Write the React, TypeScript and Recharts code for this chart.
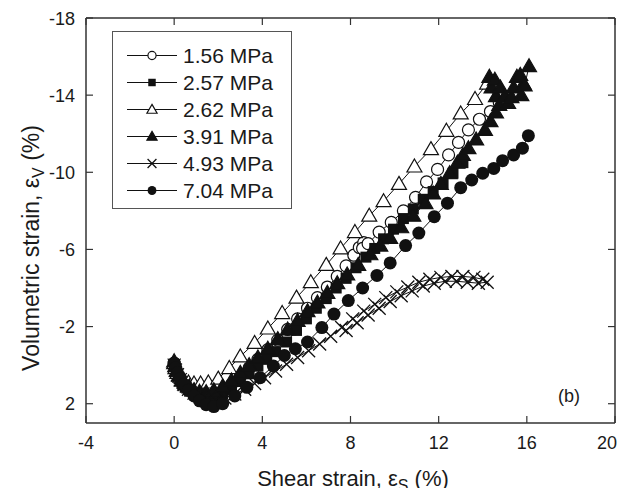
import { Legend, Line, LineChart, XAxis, YAxis } from "recharts";

const FONT = "'Liberation Sans', Arial, Helvetica, sans-serif";
const INK = "#111";
const TXT = "#1a1a1a";
const CHART_W = 609;
const CHART_H = 480;

const seriesNames = ["1.56 MPa", "2.57 MPa", "2.62 MPa", "3.91 MPa", "4.93 MPa", "7.04 MPa"];
const markerKinds = ["circle", "square", "triangle", "triangleFill", "cross", "dot"];

const xTicks = [-4, 0, 4, 8, 12, 16, 20];
const yTicks = [-18, -14, -10, -6, -2, 2];

// shear strain (%), volumetric strain (%)
const p156 = [
  [0, -0.1], [0.05, 0.15], [0.12, 0.35], [0.22, 0.6], [0.35, 0.85], [0.5, 1.05], [0.7, 1.25],
  [0.9, 1.4], [1.15, 1.5], [1.45, 1.6], [1.8, 1.55], [2.2, 1.35], [2.6, 1.0], [3.0, 0.6],
  [3.4, 0.15], [3.8, -0.3], [4.25, -0.8], [4.7, -1.3], [5.15, -1.85], [5.6, -2.4], [6.05, -2.95],
  [6.5, -3.5], [6.95, -4.05], [7.4, -4.6], [7.8, -5.15], [8.15, -5.7], [8.4, -6.1], [8.6, -6.35],
  [8.75, -6.2], [8.55, -6.05], [8.8, -6.3], [9.3, -6.9], [9.85, -7.4], [10.4, -8.0], [10.95, -8.7],
  [11.45, -9.5], [11.95, -10.15], [12.45, -10.9], [12.9, -11.55], [13.35, -12.2], [13.85, -12.75],
  [14.35, -13.15], [14.75, -13.6],
];

const p257 = [
  [0, 0], [0.05, 0.2], [0.12, 0.45], [0.22, 0.7], [0.35, 0.95], [0.5, 1.15], [0.7, 1.35],
  [0.9, 1.5], [1.15, 1.62], [1.45, 1.7], [1.8, 1.68], [2.2, 1.5], [2.6, 1.2], [3.0, 0.85],
  [3.4, 0.45], [3.8, 0.05], [4.2, -0.3], [4.6, -0.7], [5.1, -1.2], [5.55, -1.8], [6.0, -2.4],
  [6.45, -2.95], [6.9, -3.45], [7.35, -4.0], [7.8, -4.5], [8.25, -5.05], [8.7, -5.6], [9.1, -6.05],
  [9.5, -6.55], [9.95, -7.05], [10.4, -7.6], [10.85, -8.1], [11.3, -8.6], [11.75, -9.0],
  [12.2, -9.45], [12.65, -9.95], [13.1, -10.5],
];

const p262 = [
  [0, -0.1], [0.06, 0.15], [0.15, 0.4], [0.28, 0.6], [0.45, 0.78], [0.65, 0.9], [0.9, 0.95],
  [1.2, 0.95], [1.55, 0.9], [2.0, 0.7], [2.5, 0.15], [3.0, -0.45], [3.65, -1.15], [4.25, -1.9],
  [4.9, -2.7], [5.55, -3.5], [6.2, -4.3], [6.9, -5.2], [7.55, -6.05], [8.2, -6.9], [8.85, -7.75],
  [9.5, -8.5], [10.2, -9.4], [10.9, -10.3], [11.65, -11.2], [12.35, -12.15], [13.0, -13.05],
  [13.65, -13.8], [14.2, -14.6],
];

const p391 = [
  [0, -0.2], [0.05, 0.05], [0.12, 0.3], [0.22, 0.55], [0.35, 0.8], [0.5, 1.0], [0.7, 1.15],
  [0.9, 1.3], [1.15, 1.38], [1.45, 1.4], [1.8, 1.3], [2.2, 1.1], [2.6, 0.8], [3.0, 0.4],
  [3.4, 0.0], [3.8, -0.4], [4.25, -0.85], [4.7, -1.35], [5.15, -1.85], [5.6, -2.3], [6.05, -2.8],
  [6.5, -3.25], [6.95, -3.75], [7.4, -4.25], [7.85, -4.7], [8.35, -5.2], [8.9, -5.75],
  [9.35, -6.2], [9.8, -6.6], [10.3, -7.15], [10.85, -7.75], [11.4, -8.4], [11.75, -8.9],
  [12.1, -9.4], [12.5, -9.95], [12.85, -10.5], [13.1, -10.9], [13.35, -11.25], [13.7, -11.7],
  [14.1, -12.2], [14.35, -12.65], [14.6, -13.1], [14.75, -13.5], [14.6, -13.95], [14.4, -14.4],
  [14.3, -14.95], [14.55, -14.8], [14.8, -14.4], [15.0, -13.95], [15.15, -13.6], [15.3, -13.9],
  [15.4, -14.4], [15.55, -14.95], [15.7, -15.05], [15.85, -14.6], [15.75, -14.0], [15.9, -14.5],
  [16.1, -15.5],
];

const p493 = [
  [0, 0], [0.06, 0.25], [0.15, 0.5], [0.28, 0.75], [0.45, 1.0], [0.65, 1.25], [0.9, 1.45],
  [1.2, 1.65], [1.55, 1.78], [1.9, 1.8], [2.3, 1.7], [2.75, 1.5], [3.2, 1.25], [3.65, 0.95],
  [4.1, 0.65], [4.6, 0.3], [5.1, -0.05], [5.6, -0.4], [6.1, -0.75], [6.6, -1.1], [7.1, -1.5],
  [7.6, -1.95], [8.1, -2.4], [8.6, -2.8], [9.1, -3.15], [9.6, -3.5], [10.1, -3.8], [10.6, -4.05],
  [11.1, -4.3], [11.6, -4.45], [12.1, -4.55], [12.6, -4.6], [13.1, -4.6], [13.6, -4.55],
  [14.0, -4.45], [14.2, -4.3], [13.8, -4.25], [13.3, -4.3], [12.8, -4.35], [12.3, -4.35],
  [11.8, -4.25], [11.3, -4.1], [10.8, -3.85], [10.3, -3.6], [9.8, -3.3], [9.3, -2.95],
  [8.8, -2.6], [8.3, -2.2], [7.8, -1.8],
];

const p704 = [
  [0, -0.1], [0.06, 0.15], [0.15, 0.4], [0.28, 0.7], [0.45, 1.0], [0.65, 1.3], [0.9, 1.6],
  [1.15, 1.85], [1.45, 2.05], [1.8, 2.15], [2.2, 2.0], [2.75, 1.6], [3.3, 1.15], [3.9, 0.65],
  [4.5, 0.05], [5.0, -0.5], [5.5, -0.85], [6.05, -1.2], [6.7, -1.95], [7.25, -2.65], [7.9, -3.35],
  [8.55, -4.0], [9.2, -4.65], [9.8, -5.3], [10.5, -6.2], [11.1, -6.85], [11.8, -7.7], [12.4, -8.4],
  [13.0, -9.2], [13.5, -9.6], [14.0, -9.95], [14.5, -10.2], [14.9, -10.6], [15.4, -10.9],
  [15.8, -11.25], [16.07, -11.9],
];

const seriesPoints = [p156, p257, p262, p391, p493, p704];

function Marker({ kind, cx, cy, s = 1 }: { kind: string; cx: number; cy: number; s?: number }) {
  if (kind === "circle") {
    return <circle cx={cx} cy={cy} r={6 * s} fill="#fff" stroke={INK} strokeWidth={1.2} />;
  }
  if (kind === "square") {
    return <rect x={cx - 5.5 * s} y={cy - 5.5 * s} width={11 * s} height={11 * s} fill={INK} />;
  }
  if (kind === "triangle" || kind === "triangleFill") {
    const pts = `${cx},${cy - 7.5 * s} ${cx + 7.5 * s},${cy + 5.5 * s} ${cx - 7.5 * s},${cy + 5.5 * s}`;
    return (
      <polygon
        points={pts}
        fill={kind === "triangle" ? "#fff" : INK}
        stroke={INK}
        strokeWidth={1.2}
      />
    );
  }
  if (kind === "cross") {
    const d = 6.5 * s;
    return (
      <path
        d={`M${cx - d},${cy - d}L${cx + d},${cy + d}M${cx - d},${cy + d}L${cx + d},${cy - d}`}
        stroke={INK}
        strokeWidth={1.3}
        fill="none"
      />
    );
  }
  return <circle cx={cx} cy={cy} r={6.5 * s} fill={INK} />;
}

function LegendBox(props: any) {
  const payload = props.payload || [];
  return (
    <div
      style={{
        border: "1px solid #555",
        background: "#fff",
        width: 178,
        height: 176,
        fontFamily: FONT,
      }}
    >
      <div style={{ height: 10 }} />
      {payload.map((entry: any) => {
        const idx = seriesNames.indexOf(entry.value);
        return (
          <div key={entry.value} style={{ display: "flex", alignItems: "center", height: 27 }}>
            <svg width={66} height={27} style={{ display: "block" }}>
              <line x1={14} x2={64} y1={13.5} y2={13.5} stroke={INK} strokeWidth={1} />
              <Marker kind={markerKinds[idx]} cx={39} cy={13.5} s={0.68} />
            </svg>
            <span style={{ fontSize: 21, color: TXT, marginLeft: 4, lineHeight: "27px" }}>
              {entry.value}
            </span>
          </div>
        );
      })}
    </div>
  );
}

// inward tick marks, labels outside
const TICK = 7;
const tickStroke = { stroke: "#333", strokeWidth: 1.2 };

function BottomTick(p: any) {
  // the last label would run past the page edge, so pull it back inside
  const nearEdge = p.x + 10 > CHART_W;
  return (
    <g>
      <line x1={p.x} x2={p.x} y1={p.y} y2={p.y - TICK} {...tickStroke} />
      <text
        x={nearEdge ? CHART_W : p.x}
        y={p.y + 26}
        textAnchor={nearEdge ? "end" : "middle"}
        fontSize={18}
        fill={TXT}
        fontFamily={FONT}
      >
        {p.payload.value}
      </text>
    </g>
  );
}

function LeftTick(p: any) {
  return (
    <g>
      <line x1={p.x} x2={p.x + TICK} y1={p.y} y2={p.y} {...tickStroke} />
      <text x={p.x - 11} y={p.y + 6.5} textAnchor="end" fontSize={18} fill={TXT} fontFamily={FONT}>
        {p.payload.value}
      </text>
    </g>
  );
}

function TopTick(p: any) {
  return <line x1={p.x} x2={p.x} y1={p.y} y2={p.y + TICK} {...tickStroke} />;
}

function RightTick(p: any) {
  return <line x1={p.x} x2={p.x - TICK} y1={p.y} y2={p.y} {...tickStroke} />;
}

const axisLine = { stroke: "#333", strokeWidth: 1.5 };

export default function App() {
  return (
    <div style={{ position: "relative", width: CHART_W, height: CHART_H, fontFamily: FONT }}>
      <LineChart width={CHART_W} height={CHART_H} margin={{ top: 9, right: 1, bottom: 0, left: 0 }}>
        <XAxis
          xAxisId="b"
          type="number"
          dataKey="x"
          domain={[-4, 20]}
          ticks={xTicks}
          interval={0}
          allowDataOverflow
          height={65}
          tickSize={0}
          tickMargin={0}
          tick={BottomTick}
          tickLine={false}
          axisLine={axisLine}
        />
        <XAxis
          xAxisId="t"
          orientation="top"
          type="number"
          dataKey="x"
          domain={[-4, 20]}
          ticks={xTicks}
          interval={0}
          allowDataOverflow
          height={1}
          tickSize={0}
          tickMargin={0}
          tick={TopTick}
          tickLine={false}
          axisLine={axisLine}
        />
        <YAxis
          yAxisId="l"
          type="number"
          domain={[-18, 3]}
          ticks={yTicks}
          interval={0}
          reversed
          allowDataOverflow
          width={78}
          tickSize={0}
          tickMargin={0}
          tick={LeftTick}
          tickLine={false}
          axisLine={axisLine}
        />
        <YAxis
          yAxisId="r"
          orientation="right"
          type="number"
          domain={[-18, 3]}
          ticks={yTicks}
          interval={0}
          reversed
          allowDataOverflow
          width={1}
          tickSize={0}
          tickMargin={0}
          tick={RightTick}
          tickLine={false}
          axisLine={axisLine}
        />
        {seriesNames.map((name, i) => (
          <Line
            key={name}
            name={name}
            xAxisId="b"
            yAxisId="l"
            data={seriesPoints[i].map(([x, y]) => ({ x, y }))}
            dataKey="y"
            type="linear"
            stroke={INK}
            strokeWidth={1}
            isAnimationActive={false}
            dot={(p: any) => (
              <Marker key={`${name}-${p.index}`} kind={markerKinds[i]} cx={p.cx} cy={p.cy} />
            )}
            activeDot={false}
          />
        ))}
        <Legend
          layout="vertical"
          align="center"
          verticalAlign="middle"
          content={LegendBox}
          wrapperStyle={{ left: 104, top: 23, width: 180, height: 178 }}
        />
      </LineChart>
      <svg
        width={CHART_W}
        height={CHART_H}
        style={{ position: "absolute", left: 0, top: 0, overflow: "visible", pointerEvents: "none" }}
      >
        <text
          x={31}
          y={240}
          transform="rotate(-90, 31, 240)"
          textAnchor="middle"
          fontSize={23}
          fill={TXT}
          fontFamily={FONT}
        >
          Volumetric strain, ε<tspan dy={5} fontSize={16}>V</tspan>
          <tspan dy={-5}> (%)</tspan>
        </text>
        <text x={345} y={478} textAnchor="middle" fontSize={22} fill={TXT} fontFamily={FONT}>
          Shear strain, ε<tspan dy={5} fontSize={16}>S</tspan>
          <tspan dy={-5}> (%)</tspan>
        </text>
        <text x={550} y={394} fontSize={18} fill={TXT} fontFamily={FONT}>
          (b)
        </text>
      </svg>
    </div>
  );
}
